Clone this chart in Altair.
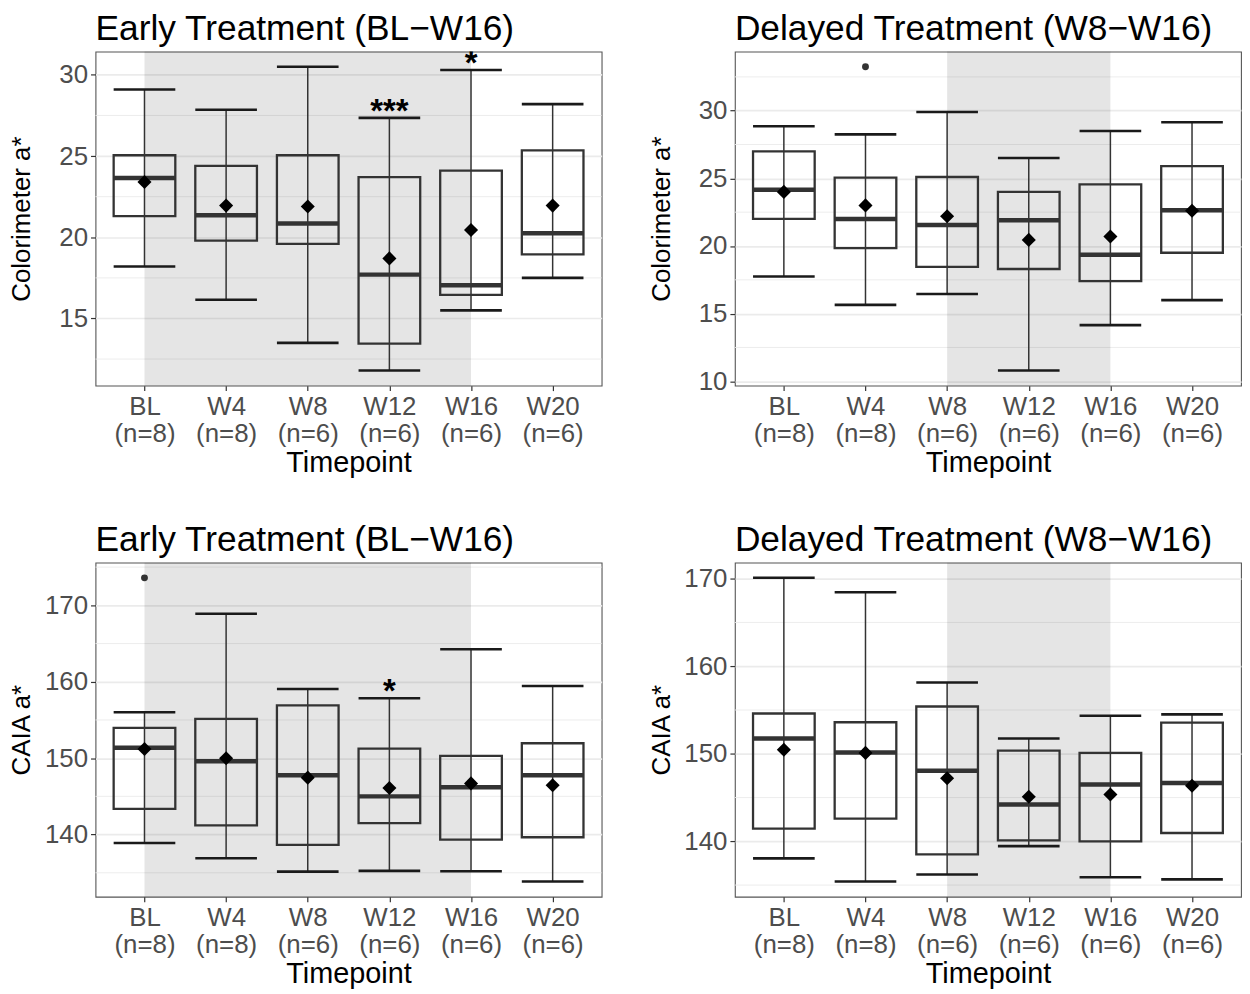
import altair as alt
import pandas as pd

FONT = "Liberation Sans"

timepoints = ["BL", "W4", "W8", "W12", "W16", "W20"]
n_counts = [8, 8, 6, 6, 6, 6]

# Panel A: Colorimeter, Early Treatment
a_lower = [18.2, 16.15, 13.5, 11.8, 15.5, 17.5]
a_q1 = [21.3, 19.8, 19.6, 13.45, 16.45, 18.95]
a_median = [23.65, 21.35, 20.85, 17.7, 17.05, 20.25]
a_q3 = [25.05, 24.4, 25.05, 23.7, 24.1, 25.35]
a_upper = [29.1, 27.85, 30.5, 27.35, 30.3, 28.2]
a_mean = [23.4, 21.95, 21.9, 18.7, 20.45, 21.95]
a_out_tp, a_out_val = [], []
a_star_tp, a_star_txt = ["W12", "W16"], ["***", "*"]

# Panel B: Colorimeter, Delayed Treatment
b_lower = [17.75, 15.65, 16.45, 10.8, 14.15, 16.0]
b_q1 = [22.0, 19.85, 18.45, 18.3, 17.4, 19.5]
b_median = [24.15, 22.0, 21.55, 21.9, 19.35, 22.65]
b_q3 = [27.0, 25.05, 25.1, 24.0, 24.55, 25.9]
b_upper = [28.85, 28.25, 29.9, 26.5, 28.5, 29.15]
b_mean = [24.0, 23.0, 22.2, 20.45, 20.7, 22.6]
b_out_tp, b_out_val = ["W4"], [33.25]
b_star_tp, b_star_txt = [], []

# Panel C: CAIA, Early Treatment
c_lower = [138.9, 136.9, 135.15, 135.25, 135.2, 133.85]
c_q1 = [143.35, 141.2, 138.65, 141.5, 139.35, 139.65]
c_median = [151.35, 149.6, 147.75, 145.0, 146.2, 147.75]
c_q3 = [153.95, 155.15, 156.9, 151.25, 150.3, 151.95]
c_upper = [156.0, 168.9, 159.05, 157.85, 164.25, 159.45]
c_mean = [151.2, 150.0, 147.45, 146.1, 146.7, 146.45]
c_out_tp, c_out_val = ["BL"], [173.6]
c_star_tp, c_star_txt = ["W12"], ["*"]

# Panel D: CAIA, Delayed Treatment
d_lower = [138.05, 135.4, 136.2, 139.45, 135.9, 135.65]
d_q1 = [141.45, 142.6, 138.5, 140.1, 140.0, 140.95]
d_median = [151.75, 150.15, 148.05, 144.2, 146.5, 146.65]
d_q3 = [154.6, 153.6, 155.4, 150.35, 150.1, 153.55]
d_upper = [170.1, 168.45, 158.15, 151.75, 154.35, 154.5]
d_mean = [150.45, 150.1, 147.2, 145.1, 145.35, 146.35]
d_out_tp, d_out_val = [], []
d_star_tp, d_star_txt = [], []

color_major = [15, 20, 25, 30]
color_major_b = [10, 15, 20, 25, 30]
color_minor = [12.5, 17.5, 22.5, 27.5, 32.5]
caia_major = [140, 150, 160, 170]
caia_minor = [135, 145, 155, 165, 175]

labels = [f"{t}|(n={n})" for t, n in zip(timepoints, n_counts)]
lab = dict(zip(timepoints, labels))

W, H = 509, 336
BOXW = 62
INK = "#333333"


def panel(title, ytitle, shade, lower, q1, median, q3, upper, mean,
          out_tp, out_val, star_tp, star_txt, major, minor):
    df = pd.DataFrame({"label": labels, "lower": lower, "q1": q1, "median": median,
                       "q3": q3, "upper": upper, "mean": mean})
    allvals = lower + upper + out_val
    lo, hi = min(allvals), max(allvals)
    pad = (hi - lo) * 0.05
    dom = [lo - pad, hi + pad]
    minor_in = [m for m in minor if dom[0] <= m <= dom[1]]

    xscale = alt.Scale(type="point", domain=labels, padding=0.6)
    xaxis = alt.Axis(title="Timepoint", labelExpr="split(datum.value, '|')")
    x = alt.X("label:N", scale=xscale, axis=xaxis)
    yscale = alt.Scale(domain=dom, nice=False, zero=False)
    yaxis = alt.Axis(title=ytitle, values=major, grid=True)

    def y(f):
        return alt.Y(f, type="quantitative", scale=yscale, axis=yaxis)

    minor_layer = alt.Chart(pd.DataFrame({"v": minor_in})).mark_rule(
        color="#ebebeb", strokeWidth=0.9).encode(y=y("v"))
    shade_df = pd.DataFrame({"label": [lab[shade[0]]], "label_end": [lab[shade[1]]]})
    shade_layer = alt.Chart(shade_df).mark_rect(color="black", opacity=0.1).encode(
        x=x, x2=alt.X2("label_end"))
    base = alt.Chart(df)
    whisk = base.mark_rule(color=INK, strokeWidth=1.5).encode(x=x, y=y("lower"), y2=alt.Y2("upper"))
    box = base.mark_bar(size=BOXW, fillOpacity=0, stroke=INK, strokeWidth=2.3).encode(
        x=x, y=y("q1"), y2=alt.Y2("q3"))
    med = base.mark_tick(size=BOXW, thickness=4.5, color=INK, opacity=1).encode(x=x, y=y("median"))
    cap_lo = base.mark_tick(size=BOXW, thickness=2.6, color="#1a1a1a", opacity=1).encode(x=x, y=y("lower"))
    cap_hi = base.mark_tick(size=BOXW, thickness=2.6, color="#1a1a1a", opacity=1).encode(x=x, y=y("upper"))
    mean_l = base.mark_point(shape="diamond", filled=True, size=200, color="black", opacity=1).encode(
        x=x, y=y("mean"))
    layers = [minor_layer, shade_layer, whisk, box, med, cap_lo, cap_hi, mean_l]
    if out_tp:
        odf = pd.DataFrame({"label": [lab[t] for t in out_tp], "v": out_val})
        layers.append(alt.Chart(odf).mark_circle(size=48, color=INK, opacity=1).encode(x=x, y=y("v")))
    if star_tp:
        up = dict(zip(labels, upper))
        sdf = pd.DataFrame({"label": [lab[t] for t in star_tp], "star": star_txt,
                            "v": [up[lab[t]] for t in star_tp]})
        layers.append(alt.Chart(sdf).mark_text(fontSize=33, fontWeight="bold", color="black",
                                               baseline="alphabetic", dy=4, font=FONT,
                                               clip=True).encode(
            x=x, y=y("v"), text="star:N"))
    return alt.layer(*layers).properties(width=W, height=H, title=title)


pA = panel("Early Treatment (BL\u2212W16)", "Colorimeter a*", ("BL", "W16"),
           a_lower, a_q1, a_median, a_q3, a_upper, a_mean, a_out_tp, a_out_val,
           a_star_tp, a_star_txt, color_major, color_minor)
pB = panel("Delayed Treatment (W8\u2212W16)", "Colorimeter a*", ("W8", "W16"),
           b_lower, b_q1, b_median, b_q3, b_upper, b_mean, b_out_tp, b_out_val,
           b_star_tp, b_star_txt, color_major_b, color_minor)
pC = panel("Early Treatment (BL\u2212W16)", "CAIA a*", ("BL", "W16"),
           c_lower, c_q1, c_median, c_q3, c_upper, c_mean, c_out_tp, c_out_val,
           c_star_tp, c_star_txt, caia_major, caia_minor)
pD = panel("Delayed Treatment (W8\u2212W16)", "CAIA a*", ("W8", "W16"),
           d_lower, d_q1, d_median, d_q3, d_upper, d_mean, d_out_tp, d_out_val,
           d_star_tp, d_star_txt, caia_major, caia_minor)

chart = alt.concat(pA, pB, pC, pD, columns=2,
                   spacing=alt.RowColnumber(row=44, column=45)).configure(
    font=FONT, padding=0, background="white"
).configure_view(
    stroke="#555555", strokeWidth=1.1
).configure_axis(
    labelFont=FONT, titleFont=FONT, labelFontSize=26, labelColor="#4d4d4d",
    titleFontSize=27, titleColor="black", titleFontWeight="normal",
    gridColor="#ebebeb", gridWidth=1.7, tickColor=INK, tickSize=5, tickWidth=1.2,
    domain=False
).configure_axisX(
    labelAngle=0, labelLineHeight=27, labelPadding=3, titlePadding=2, titleFontSize=29
).configure_axisY(
    labelPadding=3, minExtent=50, maxExtent=50, titlePadding=11, titleFontSize=26
).configure_title(
    font=FONT, fontSize=35.5, anchor="start", frame="group", fontWeight="normal",
    color="black", offset=4
)

chart.save("out.html", embed_options={"renderer": "svg", "actions": False})
